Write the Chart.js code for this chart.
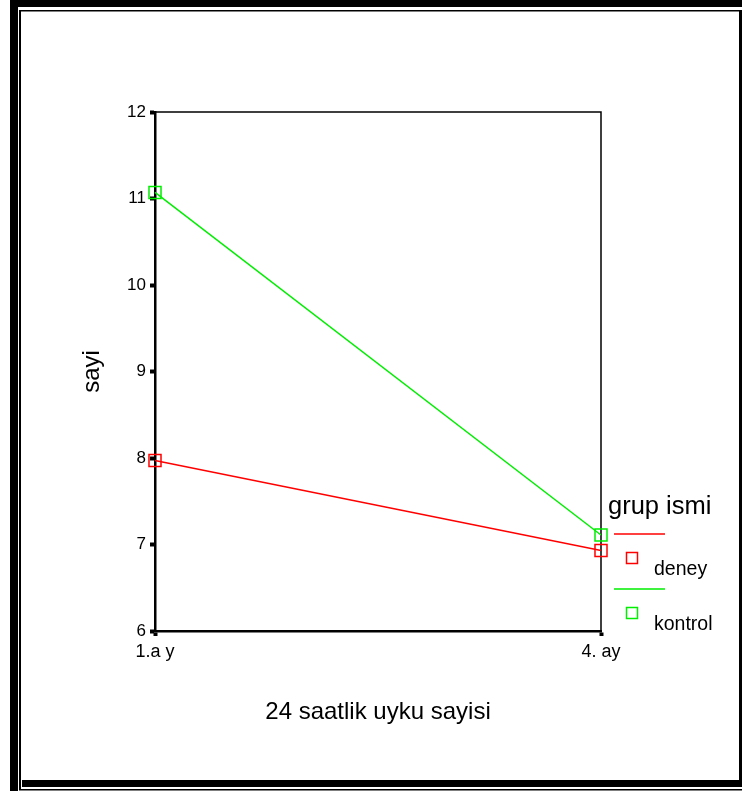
<!DOCTYPE html>
<html>
<head>
<meta charset="utf-8">
<script src="https://cdn.jsdelivr.net/npm/chart.js@4/dist/chart.umd.min.js"></script>
<style>
  body { margin: 0; background: #fff; }
  #chart { display: block; }
</style>
</head>
<body>
<canvas id="chart" width="742" height="791"></canvas>
<script>
// Data
const categories = ['1.a y', '4. ay'];
const deney = [7.97, 6.93];
const kontrol = [11.07, 7.11];
const yTicks = [6, 7, 8, 9, 10, 11, 12];

const FONT = "'Liberation Sans', Arial, sans-serif";

// Outer double frame round the page
const framePlugin = {
    id: 'frame',
    beforeDraw(chart) {
        const ctx = chart.ctx;
        ctx.save();
        ctx.fillStyle = '#fff';
        ctx.fillRect(0, 0, 742, 791);
        ctx.fillStyle = '#000';
        ctx.fillRect(10, 0, 8, 791);     // left thick
        ctx.fillRect(10, 0, 732, 7);     // top thick
        ctx.fillRect(739, 10, 3, 777);   // right thick
        ctx.fillRect(22, 780, 720, 7);   // bottom thick
        ctx.fillRect(19, 10, 2, 779);    // left thin
        ctx.fillRect(19, 10, 720, 1.5);  // top thin
        ctx.fillRect(19, 789, 723, 1.5); // bottom thin
        ctx.restore();
    }
};

// Top and right edges of the plot box
const boxPlugin = {
    id: 'box',
    beforeDatasetsDraw(chart) {
        const { ctx, chartArea: a } = chart;
        ctx.save();
        ctx.strokeStyle = '#000';
        ctx.lineWidth = 1.5;
        ctx.beginPath();
        ctx.moveTo(a.left, a.top);
        ctx.lineTo(a.right, a.top);
        ctx.lineTo(a.right, a.bottom);
        ctx.stroke();
        ctx.restore();
    }
};

// Legend in the SPSS style: title, then line + marker per group
const legendPlugin = {
    id: 'spssLegend',
    afterDraw(chart) {
        const ctx = chart.ctx;
        const x0 = 608, y0 = 514;
        ctx.save();
        ctx.fillStyle = '#000';
        ctx.font = '25.5px ' + FONT;
        ctx.textBaseline = 'alphabetic';
        ctx.fillText('grup ismi', x0, y0);
        chart.data.datasets.forEach((ds, i) => {
            const y = y0 + 20 + i * 55;
            ctx.strokeStyle = ds.borderColor;
            ctx.lineWidth = 1.5;
            ctx.beginPath();
            ctx.moveTo(614, y);
            ctx.lineTo(665, y);
            ctx.stroke();
            ctx.strokeRect(626.5, y + 18.5, 11, 11);
            ctx.fillStyle = '#000';
            ctx.font = '19.5px ' + FONT;
            ctx.fillText(ds.label, 654, y + 41);
        });
        ctx.restore();
    }
};

new Chart(document.getElementById('chart'), {
    type: 'line',
    data: {
        labels: categories,
        datasets: [{
            label: 'deney',
            data: deney,
            borderColor: '#ff0000',
            borderWidth: 1.5,
            pointStyle: 'rect',
            pointRadius: 8.5,
            pointBorderWidth: 1.5,
            pointBackgroundColor: 'rgba(0,0,0,0)',
            pointBorderColor: '#ff0000',
            clip: false
        }, {
            label: 'kontrol',
            data: kontrol,
            borderColor: '#00ee00',
            borderWidth: 1.5,
            pointStyle: 'rect',
            pointRadius: 8.5,
            pointBorderWidth: 1.5,
            pointBackgroundColor: 'rgba(0,0,0,0)',
            pointBorderColor: '#00ee00',
            clip: false
        }]
    },
    options: {
        responsive: false,
        animation: false,
        devicePixelRatio: 1,
        layout: { padding: { left: 72, top: 112, right: 141, bottom: 64 } },
        plugins: { legend: { display: false }, tooltip: { enabled: false } },
        scales: {
            x: {
                type: 'category',
                offset: false,
                afterFit: s => { s.height = 96; },
                grid: { drawOnChartArea: false, offset: false, tickLength: 5, tickWidth: 4, color: '#000' },
                border: { color: '#000', width: 2.5 },
                ticks: { color: '#000', font: { family: FONT, size: 18 }, padding: 5, maxRotation: 0 },
                title: {
                    display: true, text: '24 saatlik uyku sayisi', color: '#000',
                    font: { family: FONT, size: 24 }, padding: { top: 4, bottom: 0 }
                }
            },
            y: {
                min: yTicks[0],
                max: yTicks[yTicks.length - 1],
                afterFit: s => { s.width = 83; },
                afterBuildTicks: s => { s.ticks = yTicks.map(v => ({ value: v })); },
                grid: { drawOnChartArea: false, tickLength: 5, tickWidth: 4, color: '#000' },
                border: { color: '#000', width: 2.5 },
                ticks: { color: '#000', font: { family: FONT, size: 17 }, padding: 4 },
                title: {
                    display: true, text: 'sayi', color: '#000',
                    font: { family: FONT, size: 24 }, padding: { top: 6, bottom: 0 }
                }
            }
        }
    },
    plugins: [framePlugin, boxPlugin, legendPlugin]
});
</script>
</body>
</html>
